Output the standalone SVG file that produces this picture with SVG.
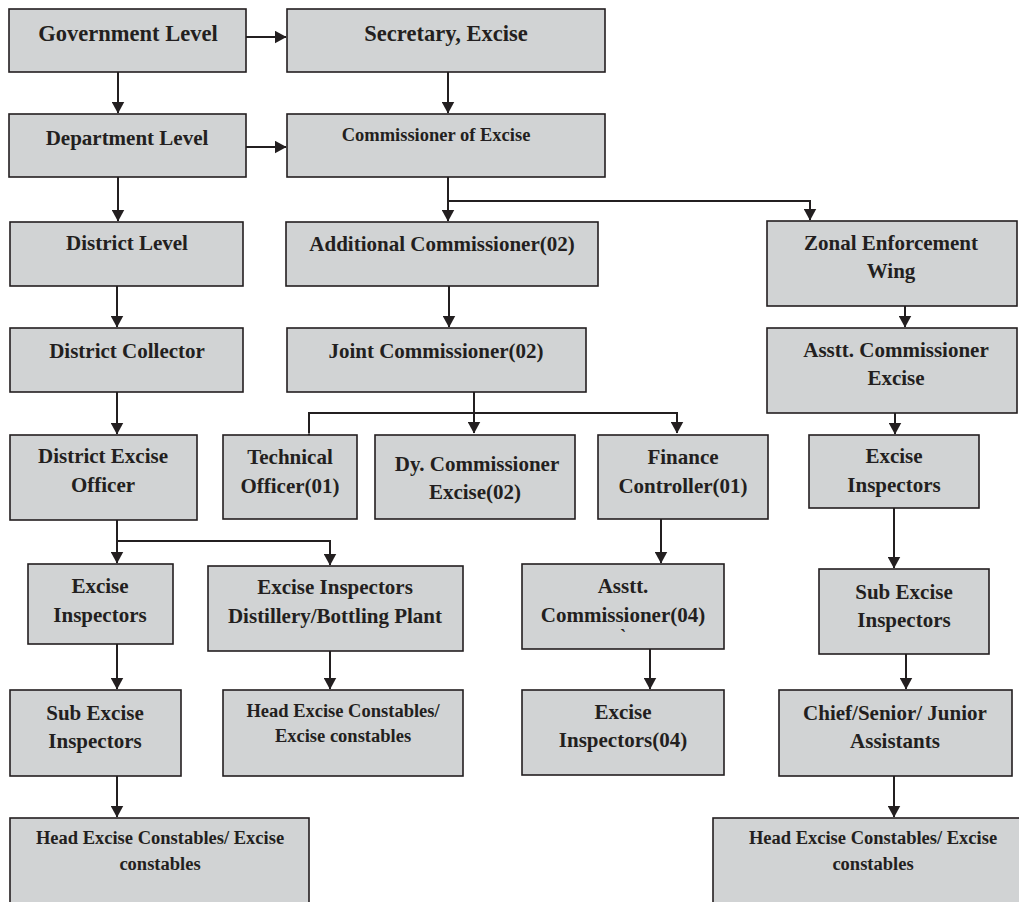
<svg xmlns="http://www.w3.org/2000/svg" width="1019" height="902" viewBox="0 0 1019 902">
<style>
.box{fill:#d1d3d4;stroke:#231f20;stroke-width:1.6}
.t{font-family:"Liberation Serif","Times New Roman",serif;font-weight:bold;fill:#231f20;text-anchor:middle}
.l{font-size:22.5px}
.m{font-size:21px}
.s{font-size:18.5px}
.c{fill:none;stroke:#231f20;stroke-width:2}
</style>
<defs>
<marker id="ah" markerWidth="12" markerHeight="13" refX="11.5" refY="6.5" orient="auto" markerUnits="userSpaceOnUse" viewBox="0 0 12 13">
<path d="M0,0 L12,6.5 L0,13 Z" fill="#231f20"/>
</marker>
</defs>
<rect width="1019" height="902" fill="#ffffff"/>
<g id="connectors">
<path class="c" d="M246,37 H286" marker-end="url(#ah)"/>
<path class="c" d="M246,147 H286" marker-end="url(#ah)"/>
<path class="c" d="M118,72 V113" marker-end="url(#ah)"/>
<path class="c" d="M448,72 V113" marker-end="url(#ah)"/>
<path class="c" d="M118,177 V221" marker-end="url(#ah)"/>
<path class="c" d="M117,286 V327" marker-end="url(#ah)"/>
<path class="c" d="M117,392 V434" marker-end="url(#ah)"/>
<path class="c" d="M117,520 V563" marker-end="url(#ah)"/>
<path class="c" d="M117,541 H330 V565" marker-end="url(#ah)"/>
<path class="c" d="M117,644 V689" marker-end="url(#ah)"/>
<path class="c" d="M117,776 V817" marker-end="url(#ah)"/>
<path class="c" d="M330,651 V689" marker-end="url(#ah)"/>
<path class="c" d="M448,177 V221" marker-end="url(#ah)"/>
<path class="c" d="M448,201 H810 V220" marker-end="url(#ah)"/>
<path class="c" d="M449,286 V327" marker-end="url(#ah)"/>
<path class="c" d="M474,392 V433" marker-end="url(#ah)"/>
<path class="c" d="M309,433 V413 H677 V433" marker-start="url(#ah)" marker-end="url(#ah)"/>
<path class="c" d="M661,519 V563" marker-end="url(#ah)"/>
<path class="c" d="M650,649 V689" marker-end="url(#ah)"/>
<path class="c" d="M905,306 V327" marker-end="url(#ah)"/>
<path class="c" d="M895,413 V434" marker-end="url(#ah)"/>
<path class="c" d="M894,508 V568" marker-end="url(#ah)"/>
<path class="c" d="M906,654 V689" marker-end="url(#ah)"/>
<path class="c" d="M894,776 V817" marker-end="url(#ah)"/>
</g>
<g id="n-gov"><rect class="box" x="9" y="9" width="237" height="63"/><text class="t l" x="128" y="41">Government Level</text></g>
<g id="n-sec"><rect class="box" x="287" y="9" width="318" height="63"/><text class="t l" x="446" y="41">Secretary, Excise</text></g>
<g id="n-dept"><rect class="box" x="9" y="114" width="237" height="63"/><text class="t m" x="127" y="145">Department Level</text></g>
<g id="n-comm"><rect class="box" x="287" y="114" width="318" height="63"/><text class="t s" x="436" y="141">Commissioner of Excise</text></g>
<g id="n-district"><rect class="box" x="10" y="222" width="233" height="64"/><text class="t m" x="127" y="250">District Level</text></g>
<g id="n-addl"><rect class="box" x="286" y="222" width="312" height="64"/><text class="t m" x="442" y="251">Additional Commissioner(02)</text></g>
<g id="n-zonal"><rect class="box" x="767" y="221" width="250" height="85"/><text class="t m" x="891" y="250">Zonal Enforcement</text><text class="t m" x="891" y="278">Wing</text></g>
<g id="n-collector"><rect class="box" x="10" y="328" width="233" height="64"/><text class="t m" x="127" y="358">District Collector</text></g>
<g id="n-joint"><rect class="box" x="287" y="328" width="299" height="64"/><text class="t m" x="436" y="358">Joint Commissioner(02)</text></g>
<g id="n-asstt-ex"><rect class="box" x="767" y="328" width="250" height="85"/><text class="t m" x="896" y="357">Asstt. Commissioner</text><text class="t m" x="896" y="385">Excise</text></g>
<g id="n-deo"><rect class="box" x="10" y="435" width="187" height="85"/><text class="t m" x="103" y="463">District Excise</text><text class="t m" x="103" y="492">Officer</text></g>
<g id="n-tech"><rect class="box" x="223" y="435" width="134" height="84"/><text class="t m" x="290" y="464">Technical</text><text class="t m" x="290" y="493">Officer(01)</text></g>
<g id="n-dy"><rect class="box" x="375" y="435" width="200" height="84"/><text class="t m" x="477" y="471">Dy. Commissioner</text><text class="t m" x="475" y="499">Excise(02)</text></g>
<g id="n-fin"><rect class="box" x="598" y="435" width="170" height="84"/><text class="t m" x="683" y="464">Finance</text><text class="t m" x="683" y="493">Controller(01)</text></g>
<g id="n-ei-r"><rect class="box" x="809" y="435" width="170" height="73"/><text class="t m" x="894" y="463">Excise</text><text class="t m" x="894" y="492">Inspectors</text></g>
<g id="n-ei-l"><rect class="box" x="28" y="564" width="145" height="80"/><text class="t m" x="100" y="593">Excise</text><text class="t m" x="100" y="622">Inspectors</text></g>
<g id="n-distill"><rect class="box" x="208" y="566" width="255" height="85"/><text class="t m" x="335" y="594">Excise Inspectors</text><text class="t m" x="335" y="623">Distillery/Bottling Plant</text></g>
<g id="n-ac04"><rect class="box" x="522" y="564" width="202" height="85"/><text class="t m" x="623" y="593">Asstt.</text><text class="t m" x="623" y="622">Commissioner(04)</text><text class="t s" x="623" y="642">`</text></g>
<g id="n-sei-r"><rect class="box" x="819" y="569" width="170" height="85"/><text class="t m" x="904" y="599">Sub Excise</text><text class="t m" x="904" y="627">Inspectors</text></g>
<g id="n-sei-l"><rect class="box" x="10" y="690" width="171" height="86"/><text class="t m" x="95" y="720">Sub Excise</text><text class="t m" x="95" y="748">Inspectors</text></g>
<g id="n-head-m"><rect class="box" x="223" y="690" width="240" height="86"/><text class="t s" x="343" y="717">Head Excise Constables/</text><text class="t s" x="343" y="742">Excise constables</text></g>
<g id="n-ei04"><rect class="box" x="522" y="690" width="202" height="85"/><text class="t m" x="623" y="719">Excise</text><text class="t m" x="623" y="747">Inspectors(04)</text></g>
<g id="n-chief"><rect class="box" x="779" y="690" width="233" height="86"/><text class="t m" x="895" y="720">Chief/Senior/ Junior</text><text class="t m" x="895" y="748">Assistants</text></g>
<g id="n-head-l"><rect class="box" x="10" y="818" width="299" height="100"/><text class="t s" x="160" y="844">Head Excise Constables/ Excise</text><text class="t s" x="160" y="870">constables</text></g>
<g id="n-head-r"><rect class="box" x="713" y="818" width="320" height="100"/><text class="t s" x="873" y="844">Head Excise Constables/ Excise</text><text class="t s" x="873" y="870">constables</text></g>
</svg>
